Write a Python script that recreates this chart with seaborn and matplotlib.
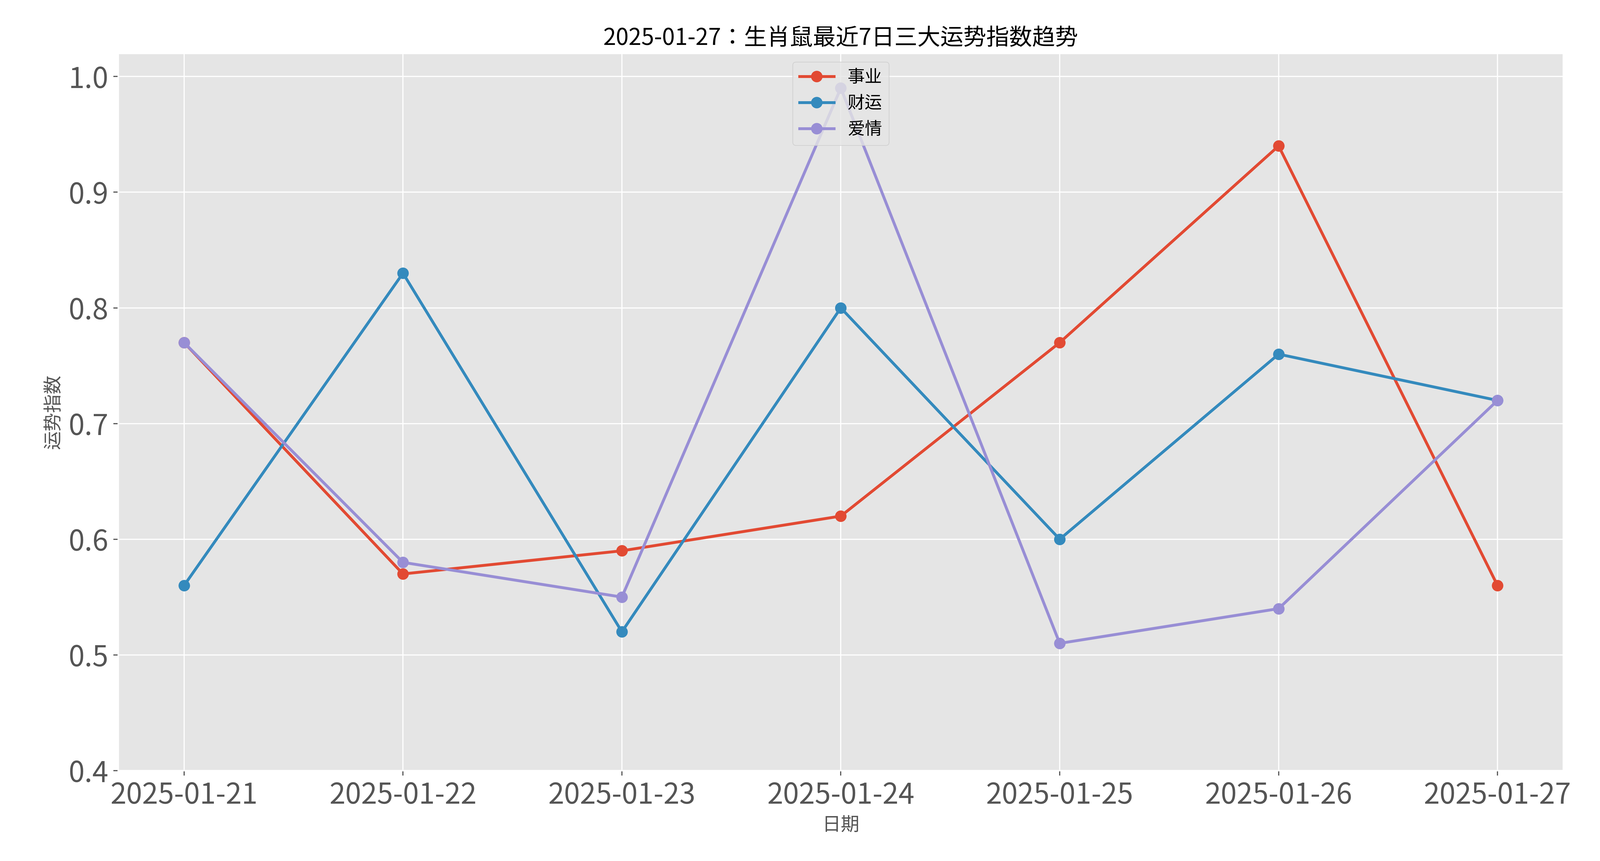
import pandas as pd
import matplotlib
matplotlib.use("Agg")
import matplotlib.pyplot as plt
import seaborn as sns

dates = ['2025-01-21', '2025-01-22', '2025-01-23', '2025-01-24',
         '2025-01-25', '2025-01-26', '2025-01-27']
career = [0.77, 0.57, 0.59, 0.62, 0.77, 0.94, 0.56]
wealth = [0.56, 0.83, 0.52, 0.80, 0.60, 0.76, 0.72]
love = [0.77, 0.58, 0.55, 0.99, 0.51, 0.54, 0.72]
series_names = ['事业', '财运', '爱情']

plt.style.use('ggplot')
plt.rcParams['font.family'] = 'sans-serif'
plt.rcParams['font.sans-serif'] = ['Noto Sans CJK SC', 'Noto Sans CJK JP', 'Noto Sans CJK TC',
                                   'Noto Sans CJK KR', 'DejaVu Sans']
plt.rcParams['axes.unicode_minus'] = False

df = pd.DataFrame({'日期': dates * 3,
                   '值': career + wealth + love,
                   '类别': [n for n in series_names for _ in dates]})

fig = plt.figure(figsize=(15.4875, 8.3375), dpi=400)
ax = fig.add_axes([0.074, 0.105, 0.903, 0.833])
colors = ['#E24A33', '#348ABD', '#988ED5']
sns.lineplot(data=df, x='日期', y='值', hue='类别', palette=colors,
             marker='o', markersize=8, markeredgewidth=0, linewidth=2, ax=ax)
ax.set_ylim(0.4, 1.02)
ax.set_title('2025-01-27：生肖鼠最近7日三大运势指数趋势', fontsize=16)
ax.set_xlabel('日期', fontsize=13)
ax.set_ylabel('运势指数', fontsize=13)
ax.tick_params(labelsize=20)
ax.legend(loc='upper center', fontsize=12, title=None)
fig.savefig('out.png', dpi=400)
